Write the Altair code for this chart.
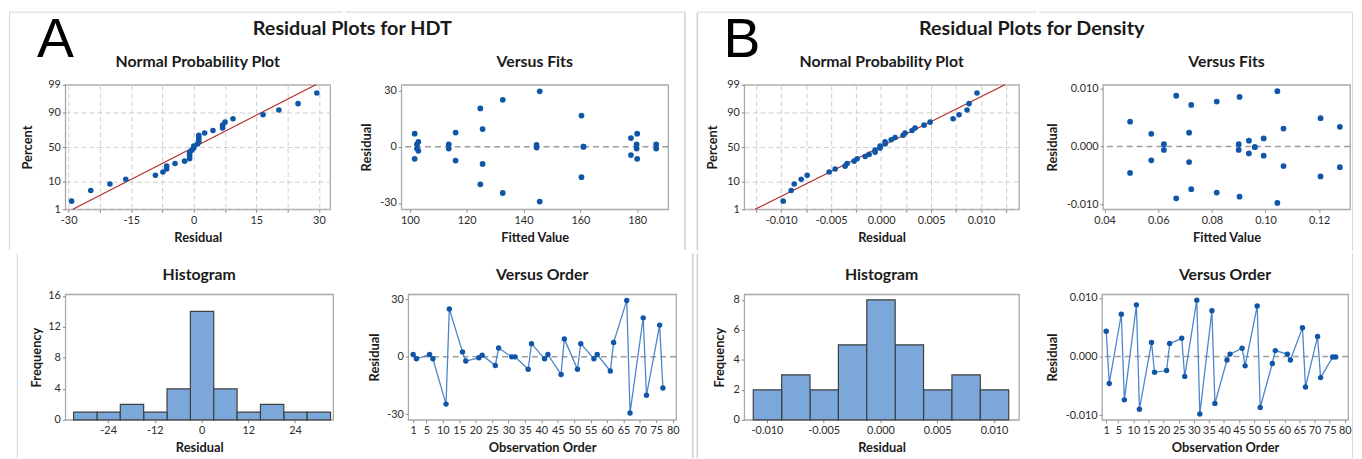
import altair as alt
import pandas as pd
from statistics import NormalDist

# ---------------- data ----------------
obs_order = [1, 2, 6, 7, 11, 12, 16, 17, 21, 22, 26, 27, 31, 32, 36, 37,
             41, 42, 46, 47, 51, 52, 56, 57, 61, 62, 66, 67, 71, 72, 76, 77]

hdt_resid = [1.2, -1.0, 1.2, -1.0, -24.7, 25.0, 2.6, -2.2, -0.5, 0.9, -4.5, 4.6,
             0.0, 0.0, -6.5, 6.9, -1.0, 1.2, -9.2, 9.4, -6.5, 6.9, -1.0, 1.2,
             -7.4, 7.5, 29.5, -29.3, 20.4, -20.1, 16.6, -16.3]
hdt_fit = [113.7, 113.7, 186.7, 186.7, 132.7, 132.7, 103.0, 103.0, 144.6, 144.6,
           177.8, 177.8, 161.1, 161.1, 101.7, 101.7, 179.8, 179.8, 125.6, 125.6,
           180.0, 180.0, 102.5, 102.5, 116.1, 116.1, 145.7, 145.7, 124.8, 124.8,
           160.4, 160.4]

dens_resid = [0.0043, -0.0046, 0.0072, -0.0074, 0.0088, -0.0090, 0.0024, -0.0027,
              -0.0024, 0.0022, 0.0031, -0.0034, 0.0096, -0.0098, 0.0078, -0.0080,
              -0.0006, 0.0004, 0.0014, -0.0016, 0.0086, -0.0087, -0.0012, 0.0010,
              0.0004, -0.0006, 0.0049, -0.0052, 0.0034, -0.0036, -0.0001, -0.0001]
dens_fit = [0.0495, 0.0495, 0.0723, 0.0723, 0.0667, 0.0667, 0.0715, 0.0715,
            0.0574, 0.0574, 0.1067, 0.1067, 0.1044, 0.1044, 0.0818, 0.0818,
            0.0621, 0.0621, 0.0993, 0.0993, 0.0903, 0.0903, 0.0938, 0.0938,
            0.0900, 0.0900, 0.1205, 0.1205, 0.1277, 0.1277, 0.0960, 0.0960]

# tick / grid values
pct_ticks = [1, 10, 50, 90, 99]
hdt_npp_grid = [-30, -22.5, -15, -7.5, 0, 7.5, 15, 22.5, 30]
dens_npp_grid = [-0.0125, -0.01, -0.0075, -0.005, -0.0025, 0.0,
                 0.0025, 0.005, 0.0075, 0.01, 0.0125]
hdt_res_ticks = [-30, -15, 0, 15, 30]
hdt_fit_ticks = [100, 120, 140, 160, 180]
hdt_hist_ticks = [-24, -12, 0, 12, 24]
hdt_freq_ticks = [0, 4, 8, 12, 16]
dens_res_ticks = [-0.01, -0.005, 0.0, 0.005, 0.01]
dens_fit_ticks = [0.04, 0.06, 0.08, 0.10, 0.12]
dens_freq_ticks = [0, 2, 4, 6, 8]
order_ticks = [1, 5, 10, 15, 20, 25, 30, 35, 40, 45, 50, 55, 60, 65, 70, 75, 80]

hdt = pd.DataFrame({"order": obs_order, "res": hdt_resid, "fit": hdt_fit})
dens = pd.DataFrame({"order": obs_order, "res": dens_resid, "fit": dens_fit})
one = pd.DataFrame({"k": [0]})

# ---------------- style ----------------
FONT = "Lato"
PT = "#0f56a8"
LINE = "#4a86cb"
RED = "#b02a2a"
BAR_FILL = "#7ca7da"
BAR_STROKE = "#3f3f3f"
BORDER = "#d6d6d6"
SEP = "#cfcfcf"
REF = "#9c9c9c"
TXT = "#1a1a1a"

ZLO = NormalDist().inv_cdf(0.01)
ZHI = NormalDist().inv_cdf(0.99)
pct_z = [NormalDist().inv_cdf(p / 100.0) for p in pct_ticks]

MINUS = "\u2212"


def fmt(f):
    return "replace(format(datum.value, '%s'), '%s', '-')" % (f, MINUS)


PCT_EXPR = "format(round(cumulativeNormal(datum.value) * 100), 'd')"
HDT_NPP_X_EXPR = "datum.value %% 15 == 0 ? %s : ''" % fmt("d")
DENS_NPP_X_EXPR = "abs(round(datum.value * 10000)) %% 50 == 0 ? %s : ''" % fmt(".3f")

# ---------------- layout geometry (screen px) ----------------
A_LEFT, SPLIT_A, A_RIGHT = 8.5, 346.0, 690.0
B_LEFT, SPLIT_B, B_RIGHT = 692.5, 1036.0, 1353.5
TOP, MID, BOT = 8.5, 250.0, 458.0
SUB_FS = 16


def xax(title, w, ty, values, expr, grid=False):
    return alt.Axis(title=title, values=values, labelExpr=expr, grid=grid,
                    titleX=w / 2, titleY=ty, titleAlign="center",
                    titleBaseline="middle", labelFlush=False, labelOverlap=False)


def yax(title, h, tx, values, expr, grid=False):
    return alt.Axis(title=title, values=values, labelExpr=expr, grid=grid,
                    titleX=tx, titleY=h / 2, titleAngle=270, titleAlign="center",
                    titleBaseline="middle", labelOverlap=False)


def sub_title(text, row):
    off = (-55.5 if row == 1 else -27.5) - SUB_FS
    return alt.TitleParams(text, anchor="middle", frame="group", offset=off,
                           baseline="alphabetic", fontSize=SUB_FS, font=FONT,
                           fontWeight="bold", color=TXT)


def borders(px, py, row, left=None, right=None, x0=None, x1=None):
    """Decorative panel borders around a cell (left/right = (x, color, width))."""
    out = []
    c = alt.Chart(one)
    if row == 1:
        out.append(c.mark_rule(color=BORDER, strokeWidth=1).encode(
            x=alt.value(x0 - px), x2=alt.value(x1 - px), y=alt.value(TOP - py)))
    else:
        out.append(c.mark_rule(color="white", strokeWidth=1).encode(
            x=alt.value(x0 - px), x2=alt.value(x1 - px), y=alt.value(BOT - py)))
    for spec in (left, right):
        if spec is None:
            continue
        xx, col, sw = spec
        hw = sw / 2.0
        if row == 1:
            ya, yb = TOP - 0.5 + hw, MID - hw
        else:
            ya, yb = MID + hw, BOT
        out.append(c.mark_rule(color=col, strokeWidth=sw).encode(
            x=alt.value(xx - px), y=alt.value(ya - py), y2=alt.value(yb - py)))
    return out


def npp_view(df, px, py, w, h, xdom, xgrid, xexpr, ytx, brd):
    xs = alt.Scale(domain=xdom, nice=False, zero=False)
    ys = alt.Scale(domain=[ZLO, ZHI], nice=False, zero=False)
    xa = xax("Residual", w, 28.5, xgrid, xexpr, grid=True)
    ya = yax("Percent", h, ytx, pct_z, PCT_EXPR, grid=True)
    fit = (alt.Chart(df)
           .transform_aggregate(m="mean(res)", s="stdev(res)")
           .transform_calculate(xa="datum.m + quantileNormal(0.01) * datum.s",
                                xb="datum.m + quantileNormal(0.99) * datum.s",
                                ya="quantileNormal(0.01)",
                                yb="quantileNormal(0.99)")
           .mark_rule(color=RED, strokeWidth=1.2)
           .encode(x=alt.X("xa:Q", scale=xs, axis=xa), x2="xb:Q",
                   y=alt.Y("ya:Q", scale=ys, axis=ya), y2="yb:Q"))
    pts = (alt.Chart(df)
           .transform_window(window=[alt.WindowFieldDef(op="row_number", **{"as": "rank"})],
                             sort=[alt.SortField(field="res", order="ascending")])
           .transform_joinaggregate(n="count()")
           .transform_calculate(z="quantileNormal((datum.rank - 0.3) / (datum.n + 0.4))")
           .mark_circle(size=32, color=PT, opacity=1)
           .encode(x=alt.X("res:Q", scale=xs, axis=xa),
                   y=alt.Y("z:Q", scale=ys, axis=ya)))
    return alt.layer(fit, pts, *brd).properties(
        width=w, height=h, title=sub_title("Normal Probability Plot", 1))


def fits_view(df, px, py, w, h, xdom, ydom, xt, xexpr, yt, yexpr, ytx, brd):
    xs = alt.Scale(domain=xdom, nice=False, zero=False)
    ys = alt.Scale(domain=ydom, nice=False, zero=False)
    xa = xax("Fitted Value", w, 28.5, xt, xexpr)
    ya = yax("Residual", h, ytx, yt, yexpr)
    ref = alt.Chart(one).mark_rule(color=REF, strokeWidth=1.5, strokeDash=[6, 4]).encode(
        y=alt.datum(0))
    pts = alt.Chart(df).mark_circle(size=34, color=PT, opacity=1).encode(
        x=alt.X("fit:Q", scale=xs, axis=xa), y=alt.Y("res:Q", scale=ys, axis=ya))
    return alt.layer(ref, pts, *brd).properties(
        width=w, height=h, title=sub_title("Versus Fits", 1))


def hist_view(df, px, py, w, h, xdom, ydom, binp, xt, xexpr, yt, ytx, brd):
    xs = alt.Scale(domain=xdom, nice=False, zero=False)
    ys = alt.Scale(domain=ydom, nice=False)
    xa = xax("Residual", w, 28.0, xt, xexpr)
    ya = yax("Frequency", h, ytx, yt, fmt("d"))
    bars = alt.Chart(df).mark_bar(fill=BAR_FILL, stroke=BAR_STROKE, strokeWidth=1.2,
                                  binSpacing=0).encode(
        x=alt.X("res:Q", bin=alt.Bin(extent=binp[0], step=binp[1], nice=False),
                scale=xs, axis=xa),
        y=alt.Y("count():Q", scale=ys, axis=ya))
    return alt.layer(bars, *brd).properties(
        width=w, height=h, title=sub_title("Histogram", 2))


def order_view(df, px, py, w, h, xdom, ydom, yt, yexpr, ytx, brd):
    xs = alt.Scale(domain=xdom, nice=False, zero=False)
    ys = alt.Scale(domain=ydom, nice=False, zero=False)
    xa = xax("Observation Order", w, 28.0, order_ticks, fmt("d"))
    ya = yax("Residual", h, ytx, yt, yexpr)
    ref = alt.Chart(one).mark_rule(color=REF, strokeWidth=1.5, strokeDash=[6, 4]).encode(
        y=alt.datum(0))
    line = alt.Chart(df).mark_line(color=LINE, strokeWidth=1.3).encode(
        x=alt.X("order:Q", scale=xs, axis=xa), y=alt.Y("res:Q", scale=ys, axis=ya))
    pts = alt.Chart(df).mark_circle(size=30, color=PT, opacity=1).encode(
        x=alt.X("order:Q", scale=xs, axis=xa), y=alt.Y("res:Q", scale=ys, axis=ya))
    return alt.layer(ref, line, pts, *brd).properties(
        width=w, height=h, title=sub_title("Versus Order", 2))


def letter_title(ch, dx):
    return alt.TitleParams(ch, anchor="start", frame="bounds", align="left",
                           offset=-49 - 54, dx=dx, baseline="alphabetic",
                           fontSize=56, font="Liberation Sans",
                           fontWeight="normal", color="#000000")


def main_title(text, dx):
    return alt.TitleParams(text, anchor="middle", frame="bounds", offset=-24.5 - 20,
                           dx=dx, baseline="alphabetic", fontSize=20, font=FONT,
                           fontWeight="bold", color=TXT)


# ---------------- group A : HDT ----------------
npp_a = npp_view(hdt, 65, 82, 268, 126, [-30.8, 32.7], hdt_npp_grid, HDT_NPP_X_EXPR, -38,
                 borders(65, 82, 1, left=(A_LEFT, BORDER, 1), x0=A_LEFT, x1=SPLIT_A - 0.5))
fits_a = fits_view(hdt, 403, 82, 270, 126, [97.0, 190.9], [-33.4, 33.0],
                   hdt_fit_ticks, fmt("d"), hdt_res_ticks, fmt("d"), -35,
                   borders(403, 82, 1, right=(A_RIGHT, SEP, 1.5), x0=SPLIT_A + 0.5, x1=A_RIGHT))
hist_a = hist_view(hdt, 57, 292, 271, 127, [-35.0, 33.8], [0, 16.2], ([-33, 33], 6),
                   hdt_hist_ticks, fmt("d"), hdt_freq_ticks, -29,
                   borders(57, 292, 2, left=(A_LEFT, BORDER, 1), x0=A_LEFT, x1=SPLIT_A - 0.5))
order_a = order_view(hdt, 402, 292, 271, 127, [-0.5, 81.0], [-32.9, 32.7],
                     hdt_res_ticks, fmt("d"), -34,
                     borders(402, 292, 2, right=(A_RIGHT, SEP, 1.5), x0=SPLIT_A + 0.5, x1=A_RIGHT))

row_a1 = alt.hconcat(npp_a, fits_a, spacing=0, title=letter_title("A", 29))
row_a2 = alt.hconcat(hist_a, order_a, spacing=0)
group_a = alt.vconcat(row_a1, row_a2, spacing=0,
                      title=main_title("Residual Plots for HDT", 1))

# ---------------- group B : Density ----------------
npp_b = npp_view(dens, 740, 82, 278, 126, [-0.0137, 0.0138], dens_npp_grid, DENS_NPP_X_EXPR, -32,
                 borders(740, 82, 1, left=(B_LEFT, SEP, 1.5), x0=B_LEFT, x1=SPLIT_B - 0.5))
fits_b = fits_view(dens, 1101, 82, 250, 126, [0.0394, 0.1315], [-0.0109, 0.0107],
                   dens_fit_ticks, fmt(".2f"), dens_res_ticks, fmt(".3f"), -51,
                   borders(1101, 82, 1, right=(B_RIGHT, BORDER, 1), x0=SPLIT_B + 0.5, x1=B_RIGHT))
hist_b = hist_view(dens, 740, 292, 278, 127, [-0.0120, 0.0122], [0, 8.37],
                   ([-0.01125, 0.01125], 0.0025),
                   dens_res_ticks, fmt(".3f"), dens_freq_ticks, -25,
                   borders(740, 292, 2, left=(B_LEFT, SEP, 1.5), x0=B_LEFT, x1=SPLIT_B - 0.5))
order_b = order_view(dens, 1100, 292, 249, 127, [-0.4, 81.1], [-0.0108, 0.0106],
                     dens_res_ticks, fmt(".3f"), -50,
                     borders(1100, 292, 2, right=(B_RIGHT, BORDER, 1), x0=SPLIT_B + 0.5, x1=B_RIGHT))

row_b1 = alt.hconcat(npp_b, fits_b, spacing=0, title=letter_title("B", 28))
row_b2 = alt.hconcat(hist_b, order_b, spacing=0)
group_b = alt.vconcat(row_b1, row_b2, spacing=0,
                      title=main_title("Residual Plots for Density", 7))

chart = (alt.hconcat(group_a, group_b, spacing=1, padding=0, background="white")
         .configure(font=FONT)
         .configure_view(stroke="#a9a9a9", strokeWidth=1.3)
         .configure_axis(labelFont=FONT, labelFontSize=11, labelColor="#2b2b2b",
                         titleFont=FONT, titleFontSize=13, titleFontWeight="bold",
                         titleColor=TXT, tickSize=3, tickColor="#8a8a8a", domain=False,
                         grid=False, gridColor="#cdcdcd", gridDash=[5, 3], gridWidth=1,
                         labelPadding=2))

chart.save("out.html", embed_options={"renderer": "svg", "actions": False})
